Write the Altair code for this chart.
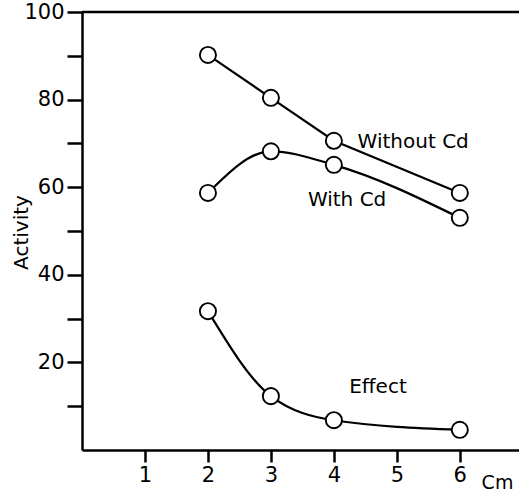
import altair as alt
import pandas as pd

# Data
conc = [2, 3, 4, 6]
without_cd = [90.2, 80.4, 70.6, 58.7]
with_cd = [58.7, 68.2, 65.1, 53.0]
effect = [31.7, 12.3, 6.8, 4.6]

label_text = ["Without Cd", "With Cd", "Effect"]
label_x = [5.26, 4.21, 4.70]
label_y = [70.3, 57.1, 14.4]

FONT = "DejaVu Sans"

df = pd.DataFrame({
    "c": conc * 3,
    "activity": without_cd + with_cd + effect,
    "series": ["Without Cd"] * 4 + ["With Cd"] * 4 + ["Effect"] * 4,
})
labels = pd.DataFrame({"x": label_x, "y": label_y, "t": label_text})
frame = pd.DataFrame({"y": [100]})

xs = alt.Scale(domain=[0, 6.94], nice=False, zero=False)
ys = alt.Scale(domain=[0, 100], nice=False)

x_axis = alt.Axis(
    values=[1, 2, 3, 4, 5, 6], format="d", title="Cm", grid=False,
    domainColor="black", domainWidth=2.5, tickColor="black", tickWidth=2.5,
    tickSize=12, labelFont=FONT, labelFontSize=21, labelColor="black",
    labelPadding=2, labelBaseline="top",
    titleFont=FONT, titleFontSize=19, titleFontWeight="normal", titleColor="black",
    titleX=415, titleY=32, titleAlign="center", titleBaseline="middle",
)
y_axis = alt.Axis(
    values=[10, 20, 30, 40, 50, 60, 70, 80, 90, 100], title="Activity", grid=False,
    labelExpr="datum.value % 20 == 0 ? datum.label : ''",
    domainColor="black", domainWidth=2.5, tickColor="black", tickWidth=2.5,
    tickSize=15, labelFont=FONT, labelFontSize=21, labelColor="black",
    labelPadding=3,
    titleFont=FONT, titleFontSize=20, titleFontWeight="normal", titleColor="black",
    titleX=-61, titleY=220, titleAngle=270, titleAlign="center", titleBaseline="middle",
)

base = alt.Chart(df).encode(
    x=alt.X("c:Q", scale=xs, axis=x_axis),
    y=alt.Y("activity:Q", scale=ys, axis=y_axis),
)

line_without = base.transform_filter(alt.datum.series == "Without Cd").mark_line(
    color="black", strokeWidth=2.2, interpolate="linear")
line_with = base.transform_filter(alt.datum.series == "With Cd").mark_line(
    color="black", strokeWidth=2.2, interpolate="monotone")
line_effect = base.transform_filter(alt.datum.series == "Effect").mark_line(
    color="black", strokeWidth=2.2, interpolate="monotone")

points = base.mark_point(
    shape="circle", filled=True, fill="white", stroke="black",
    strokeWidth=1.9, size=260, opacity=1)

texts = alt.Chart(labels).mark_text(
    font=FONT, fontSize=20, color="black", align="center", baseline="middle"
).encode(x=alt.X("x:Q", scale=xs), y=alt.Y("y:Q", scale=ys), text="t:N")

top = alt.Chart(frame).mark_rule(color="black", strokeWidth=2.5).encode(
    y=alt.Y("y:Q", scale=ys))

chart = alt.layer(top, line_without, line_with, line_effect, points, texts).properties(
    width=437, height=438,
    autosize=alt.AutoSizeParams(type="none"),
    padding={"left": 82, "top": 12, "right": 0, "bottom": 43},
    background="white",
).configure_view(stroke=None)

chart.save("out.html", embed_options={"renderer": "svg", "actions": False})
